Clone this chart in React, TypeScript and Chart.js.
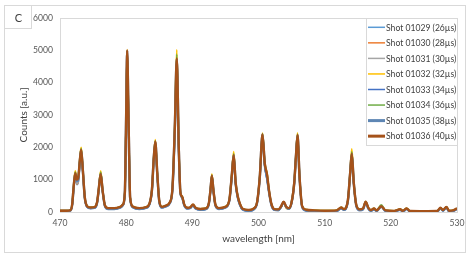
import React, { useEffect, useRef } from "react";
import { Chart, registerables } from "chart.js";

Chart.register(...registerables);

const wavelengths = [
  470, 471, 471.6, 471.85, 472.05, 472.3, 472.55, 472.75, 473.0, 473.2,
  473.45, 473.75, 474.1, 474.6, 475.2, 475.6, 475.85, 476.15, 476.45, 476.8,
  477.3, 478.2, 479.0, 479.5, 479.8, 480.0, 480.15, 480.35, 480.6, 481.0,
  482.0, 483.0, 483.5, 483.9, 484.15, 484.4, 484.7, 485.0, 485.4, 486.0,
  486.6, 487.0, 487.35, 487.65, 487.95, 488.2, 488.45, 488.8, 489.3, 489.7,
  490.1, 490.5, 491.2, 492.0, 492.5, 492.75, 492.95, 493.2, 493.5, 494.0,
  495.0, 495.6, 495.95, 496.25, 496.55, 496.85, 497.2, 497.6, 498.5, 499.3,
  499.8, 500.2, 500.6, 500.95, 501.3, 501.6, 501.95, 502.4, 503.0, 503.4,
  503.8, 504.2, 504.6, 505.0, 505.4, 505.65, 505.9, 506.2, 506.6, 507.2,
  508.5, 510.0, 511.8, 512.5, 512.9, 513.5, 513.85, 514.1, 514.4, 514.8,
  515.3, 515.8, 516.2, 516.6, 517.0, 517.45, 517.85, 518.55, 519.2, 520.5,
  521.4, 521.8, 522.4, 522.9, 525.0, 527.0, 527.5, 527.9, 528.4, 528.8,
  529.4, 530,
];

const shotLabels = [
  "Shot 01029 (26µs)",
  "Shot 01030 (28µs)",
  "Shot 01031 (30µs)",
  "Shot 01032 (32µs)",
  "Shot 01033 (34µs)",
  "Shot 01034 (36µs)",
  "Shot 01035 (38µs)",
  "Shot 01036 (40µs)",
];

const shot01029 = [
  30, 30, 50, 220, 680, 1100, 850, 920, 1500, 1850,
  1250, 420, 160, 120, 130, 270, 650, 1150, 620, 180,
  100, 100, 130, 210, 560, 2900, 4900, 2900, 420, 150,
  100, 130, 230, 650, 1550, 2100, 1150, 330, 140, 180,
  280, 700, 2300, 4200, 1800, 550, 450, 200, 110, 130,
  210, 110, 75, 90, 250, 650, 1080, 620, 200, 100,
  140, 350, 1000, 1650, 850, 450, 220, 80, 40, 90,
  300, 1050, 2300, 1420, 1020, 600, 220, 70, 60, 150,
  300, 150, 100, 280, 850, 1600, 2300, 1050, 160, 50,
  30, 25, 30, 120, 70, 320, 1150, 1700, 850, 180,
  60, 90, 290, 110, 40, 90, 35, 170, 35, 20,
  70, 25, 95, 20, 15, 20, 115, 45, 140, 25,
  35, 95,
];

const shot01030 = [
  40, 40, 55, 230, 700, 1130, 870, 950, 1550, 1900,
  1280, 430, 170, 130, 140, 290, 680, 1170, 640, 190,
  110, 110, 140, 220, 580, 2950, 4950, 2950, 440, 160,
  110, 140, 240, 680, 1580, 2150, 1180, 340, 150, 190,
  290, 730, 2500, 4600, 1950, 580, 470, 210, 120, 140,
  220, 120, 85, 100, 270, 680, 1100, 640, 210, 110,
  150, 370, 1060, 1720, 880, 480, 240, 90, 50, 100,
  310, 1080, 2370, 1450, 1050, 620, 240, 80, 70, 160,
  310, 150, 110, 290, 880, 1660, 2350, 1080, 170, 60,
  40, 35, 40, 130, 80, 340, 1180, 1760, 880, 190,
  70, 100, 310, 120, 50, 100, 45, 175, 45, 30,
  80, 35, 105, 25, 20, 25, 125, 55, 155, 35,
  45, 105,
];

const shot01031 = [
  35, 35, 55, 225, 690, 1120, 880, 940, 1530, 1880,
  1270, 430, 165, 125, 135, 285, 670, 1160, 630, 185,
  105, 105, 135, 215, 570, 2920, 4950, 2920, 430, 155,
  105, 135, 235, 670, 1560, 2120, 1170, 335, 145, 185,
  285, 720, 2400, 4400, 1880, 570, 460, 205, 115, 135,
  215, 115, 80, 95, 260, 670, 1090, 630, 205, 105,
  145, 360, 1030, 1690, 870, 470, 230, 85, 45, 95,
  305, 1070, 2340, 1440, 1060, 610, 230, 75, 65, 155,
  305, 150, 105, 285, 870, 1640, 2330, 1070, 165, 55,
  35, 30, 35, 125, 75, 330, 1160, 1730, 870, 185,
  65, 95, 300, 115, 45, 95, 40, 175, 40, 25,
  75, 30, 100, 25, 20, 25, 120, 50, 150, 30,
  40, 100,
];

const shot01032 = [
  40, 40, 60, 260, 780, 1270, 1020, 1080, 1650, 2000,
  1350, 460, 180, 140, 150, 310, 720, 1270, 680, 200,
  120, 120, 150, 230, 620, 3050, 5020, 3050, 460, 170,
  120, 150, 250, 720, 1650, 2240, 1230, 350, 160, 200,
  300, 770, 2700, 5020, 2100, 620, 480, 220, 130, 150,
  230, 130, 95, 110, 280, 720, 1170, 680, 220, 120,
  170, 400, 1150, 1870, 930, 500, 250, 100, 60, 110,
  330, 1130, 2440, 1520, 1180, 660, 250, 90, 80, 160,
  300, 120, 90, 330, 950, 1750, 2450, 1130, 180, 70,
  50, 40, 50, 140, 90, 360, 1250, 1950, 930, 200,
  80, 110, 320, 130, 60, 110, 50, 190, 50, 35,
  85, 40, 110, 30, 25, 30, 130, 60, 160, 40,
  50, 110,
];

const shot01033 = [
  30, 30, 50, 230, 700, 1150, 950, 1000, 1560, 1900,
  1280, 430, 160, 115, 125, 280, 680, 1170, 640, 180,
  95, 95, 125, 210, 580, 2950, 4970, 2950, 430, 150,
  95, 125, 225, 680, 1580, 2150, 1180, 330, 135, 175,
  275, 730, 2550, 4700, 1980, 580, 450, 195, 105, 125,
  205, 105, 70, 85, 255, 690, 1110, 640, 195, 95,
  140, 360, 1080, 1740, 880, 470, 220, 75, 35, 85,
  300, 1080, 2380, 1450, 1000, 600, 220, 65, 55, 150,
  300, 140, 100, 290, 890, 1690, 2370, 1090, 155, 45,
  25, 20, 25, 115, 65, 330, 1190, 1790, 890, 175,
  55, 85, 300, 105, 35, 85, 30, 165, 30, 15,
  65, 20, 90, 15, 10, 15, 110, 40, 140, 20,
  30, 95,
];

const shot01034 = [
  40, 40, 60, 255, 760, 1230, 1010, 1060, 1620, 1960,
  1320, 450, 180, 140, 150, 305, 710, 1230, 660, 200,
  120, 120, 150, 230, 610, 3020, 4990, 3020, 455, 170,
  120, 150, 250, 710, 1620, 2200, 1210, 350, 160, 200,
  300, 760, 2650, 4880, 2050, 610, 480, 220, 130, 150,
  230, 130, 95, 110, 280, 710, 1140, 660, 220, 120,
  165, 390, 1120, 1800, 910, 500, 250, 100, 60, 110,
  325, 1110, 2420, 1510, 1160, 650, 250, 90, 80, 165,
  310, 150, 110, 310, 920, 1720, 2410, 1110, 180, 70,
  50, 40, 50, 140, 90, 355, 1220, 1860, 910, 200,
  80, 110, 320, 130, 60, 110, 50, 220, 50, 35,
  85, 40, 110, 30, 25, 30, 130, 60, 160, 40,
  50, 110,
];

const shot01035 = [
  30, 30, 50, 235, 720, 1170, 960, 1010, 1570, 1910,
  1290, 435, 160, 115, 125, 280, 690, 1170, 640, 180,
  95, 95, 125, 210, 585, 2960, 4980, 2960, 430, 150,
  95, 125, 225, 690, 1590, 2160, 1180, 330, 135, 175,
  275, 735, 2560, 4720, 1990, 585, 455, 195, 105, 125,
  205, 105, 70, 85, 255, 690, 1110, 640, 195, 95,
  140, 360, 1080, 1750, 880, 470, 220, 75, 35, 85,
  300, 1085, 2390, 1460, 1050, 610, 220, 65, 55, 155,
  305, 145, 100, 290, 890, 1690, 2370, 1090, 155, 45,
  25, 20, 25, 115, 65, 335, 1190, 1790, 890, 175,
  55, 85, 300, 105, 35, 85, 30, 165, 30, 15,
  65, 20, 90, 15, 10, 15, 110, 40, 140, 20,
  30, 95,
];

const shot01036 = [
  40, 40, 60, 250, 750, 1200, 1000, 1050, 1600, 1930,
  1300, 450, 180, 140, 150, 300, 700, 1180, 650, 200,
  120, 120, 150, 230, 600, 3000, 5000, 3000, 450, 170,
  120, 150, 250, 700, 1600, 2180, 1200, 350, 160, 200,
  300, 750, 2600, 4750, 2000, 600, 480, 220, 130, 150,
  230, 130, 95, 110, 280, 700, 1120, 650, 220, 120,
  160, 380, 1100, 1760, 900, 500, 250, 100, 60, 110,
  320, 1100, 2400, 1500, 1150, 650, 250, 90, 80, 170,
  320, 160, 120, 300, 900, 1700, 2380, 1100, 180, 70,
  50, 40, 50, 140, 90, 350, 1200, 1800, 900, 200,
  80, 110, 320, 130, 60, 110, 50, 180, 50, 35,
  85, 40, 110, 30, 25, 30, 130, 60, 160, 40,
  50, 110,
];

const seriesValues = [
  shot01029, shot01030, shot01031, shot01032,
  shot01033, shot01034, shot01035, shot01036,
];

const xTicks = [470, 480, 490, 500, 510, 520, 530];
const yTicks = [0, 1000, 2000, 3000, 4000, 5000, 6000];

const panelLabel = "C";
const xTitle = "wavelength [nm]";
const yTitle = "Counts [a.u.]";

const COLORS = [
  "#5B9BD5", "#ED7D31", "#A5A5A5", "#FFC000",
  "#4472C4", "#70AD47", "#5E86B4", "#A5521A",
];
const WIDTHS = [1.8, 1.8, 1.8, 1.8, 1.8, 1.8, 2.4, 2.4];
const LEGEND_WIDTHS = [1.5, 1.5, 1.5, 1.5, 1.5, 1.5, 3, 3];
const FONT = "Lato, 'Open Sans', sans-serif";
const BORDER = "#D9D9D9";

const decorPlugin = {
  id: "decor",
  beforeDraw(chart: any) {
    const ctx = chart.ctx;
    ctx.save();
    ctx.fillStyle = "#ffffff";
    ctx.fillRect(0, 0, chart.width, chart.height);
    ctx.strokeStyle = BORDER;
    ctx.lineWidth = 1;
    ctx.strokeRect(4.5, 5.5, 461, 247);
    // panel label box
    ctx.strokeRect(4.5, 5.5, 27, 23);
    ctx.fillStyle = "#404040";
    ctx.font = `11px ${FONT}`;
    ctx.textAlign = "center";
    ctx.textBaseline = "middle";
    ctx.fillText(panelLabel, 18.5, 18);
    // plot area border
    const a = chart.chartArea;
    ctx.strokeStyle = BORDER;
    ctx.strokeRect(Math.round(a.left) + 0.5, Math.round(a.top) + 0.5,
      Math.round(a.right - a.left), Math.round(a.bottom - a.top));
    ctx.restore();
  },
  afterDraw(chart: any) {
    const ctx = chart.ctx;
    const a = chart.chartArea;
    ctx.save();
    const bx = 366.5, by = Math.round(a.top) + 0.5;
    const bw = Math.round(a.right) - 366, bh = 127;
    ctx.fillStyle = "#ffffff";
    ctx.fillRect(bx, by, bw, bh);
    ctx.strokeStyle = BORDER;
    ctx.lineWidth = 1;
    ctx.strokeRect(bx, by, bw, bh);
    ctx.font = `8.6px ${FONT}`;
    ctx.textAlign = "left";
    ctx.textBaseline = "middle";
    shotLabels.forEach((label, i) => {
      const y = 27.3 + i * 15.55;
      ctx.strokeStyle = COLORS[i];
      ctx.lineWidth = LEGEND_WIDTHS[i];
      ctx.beginPath();
      ctx.moveTo(368, y);
      ctx.lineTo(385, y);
      ctx.stroke();
      ctx.fillStyle = "#404040";
      ctx.fillText(label, 386, y + 0.5);
    });
    ctx.restore();
  },
};

export default function App() {
  const ref = useRef<HTMLCanvasElement | null>(null);

  useEffect(() => {
    if (!ref.current) return;
    const datasets = seriesValues.map((vals, i) => ({
      label: shotLabels[i],
      data: wavelengths.map((x, j) => ({ x, y: vals[j] })),
      borderColor: COLORS[i],
      backgroundColor: COLORS[i],
      borderWidth: WIDTHS[i],
      pointRadius: 0,
      fill: false,
      cubicInterpolationMode: "monotone" as const,
      order: seriesValues.length - 1 - i,
    }));
    const chart = new Chart(ref.current, {
      type: "line",
      data: { datasets },
      plugins: [decorPlugin],
      options: {
        animation: false,
        responsive: false,
        devicePixelRatio: 1,
        layout: { padding: { left: 0, top: 18, right: 14, bottom: 0 } },
        plugins: {
          legend: { display: false },
          tooltip: { enabled: false },
        },
        scales: {
          x: {
            type: "linear",
            min: 470,
            max: 530,
            afterFit: (s: any) => { s.height = 47; },
            afterBuildTicks: (s: any) => { s.ticks = xTicks.map((v) => ({ value: v })); },
            grid: { display: false, drawTicks: false },
            border: { display: false },
            ticks: {
              padding: 6,
              color: "#595959",
              font: { family: FONT, size: 8.6 },
              maxRotation: 0,
              callback: (v: any) => String(v),
            },
            title: {
              display: true,
              text: xTitle,
              color: "#404040",
              font: { family: FONT, size: 10 },
              padding: { top: 0, bottom: 14 },
            },
          },
          y: {
            type: "linear",
            min: 0,
            max: 6000,
            afterFit: (s: any) => { s.width = 60; },
            afterBuildTicks: (s: any) => { s.ticks = yTicks.map((v) => ({ value: v })); },
            grid: { display: false, drawTicks: false },
            border: { display: false },
            ticks: {
              padding: 7,
              color: "#595959",
              font: { family: FONT, size: 8.6 },
              callback: (v: any) => String(v),
            },
            title: {
              display: true,
              text: yTitle,
              color: "#404040",
              font: { family: FONT, size: 10 },
              padding: { top: 18, bottom: 0 },
            },
          },
        },
      },
    });
    return () => chart.destroy();
  }, []);

  return (
    <div style={{ position: "absolute", left: 0, top: 0, width: 471, height: 259 }}>
      <canvas ref={ref} width={471} height={259} style={{ display: "block" }} />
    </div>
  );
}
